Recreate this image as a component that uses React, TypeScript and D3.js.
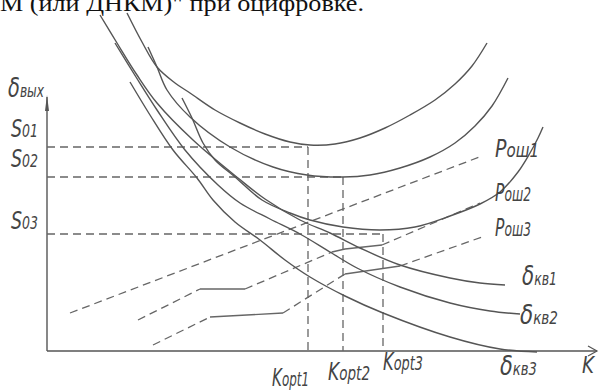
import React from "react";
import * as d3 from "d3";

type Pt = [number, number];

// axis units: K along x, δ along y
const kMax = 55;
const dMax = 35.1;

// total output error curves (U-shaped)
const sumCurve1: Pt[] = [
  [8.0, 33.8], [9.5, 30.9], [11.0, 28.4], [12.8, 26.8], [14.3, 25.8], [16.8, 24.1],
  [19.3, 22.8], [21.8, 21.7], [24.3, 20.9], [26.3, 20.6], [28.8, 20.7], [31.3, 21.3],
  [33.8, 22.3], [36.3, 23.6], [38.8, 25.1], [40.8, 26.7], [42.5, 28.5], [44.0, 30.8],
];
const sumCurve2: Pt[] = [
  [10.1, 30.4], [11.0, 28.4], [12.0, 26.1], [14.3, 23.4], [18.3, 20.4], [22.6, 18.4],
  [26.0, 17.6], [29.6, 17.4], [32.3, 17.6], [35.3, 18.3], [38.3, 19.4], [40.8, 20.8],
  [42.8, 22.5], [44.5, 24.5], [46.1, 27.3],
];
const sumCurve3: Pt[] = [
  [13.5, 25.3], [14.5, 23.3], [15.6, 20.8], [16.8, 19.1], [18.8, 17.4], [21.5, 15.1],
  [24.3, 13.8], [26.3, 13.1], [29.6, 12.4], [33.3, 12.1], [36.8, 12.4], [40.3, 13.5],
  [43.3, 14.7], [45.3, 15.9], [47.1, 17.9], [48.3, 19.8], [49.1, 21.3], [49.6, 22.4],
];

// quantization error curves δкв
const quantCurve1: Pt[] = [
  [5.3, 33.6], [7.0, 30.8], [9.0, 27.6], [11.0, 24.8], [14.6, 21.1], [19.1, 17.3],
  [21.8, 15.2], [25.3, 13.1], [28.3, 11.8], [31.3, 10.3], [35.3, 8.6], [40.3, 7.3],
  [43.3, 6.8], [45.8, 6.6],
];
const quantCurve2: Pt[] = [
  [6.8, 30.8], [8.9, 27.4], [11.0, 24.1], [13.8, 20.1], [17.1, 16.6], [19.3, 14.8],
  [22.3, 13.2], [25.3, 11.7], [28.3, 9.9], [31.0, 8.3], [35.3, 6.4], [40.3, 4.8],
  [44.3, 4.0], [47.3, 3.7],
];
const quantCurve3: Pt[] = [
  [8.3, 26.9], [10.3, 23.6], [12.6, 20.1], [15.0, 17.3], [16.6, 15.1], [18.8, 12.9],
  [21.3, 11.1], [23.8, 9.1], [26.3, 7.4], [29.8, 5.5], [33.6, 3.8], [40.3, 1.4],
  [45.3, 0.2], [49.0, -0.1],
];

// error probability lines Pош: pieces alternate dashed / solid
const errLine1: Pt[][] = [[[2.3, 3.8], [43.5, 19.5]]];
const errLine2: Pt[][] = [
  [[9.1, 3.1], [15.3, 6.2]],
  [[15.3, 6.2], [19.8, 6.2]],
  [[19.8, 6.2], [28.5, 9.9]],
  [[28.5, 9.9], [29.8, 10.2], [33.5, 10.6]],
  [[33.5, 10.6], [43.3, 14.8]],
];
const errLine3: Pt[][] = [
  [[10.6, 0.6], [16.3, 3.4]],
  [[16.3, 3.4], [23.6, 3.8]],
  [[23.6, 3.8], [29.8, 7.7]],
  [[29.8, 7.7], [35.3, 8.5]],
  [[35.3, 8.5], [43.5, 11.4]],
];

// optimum points
const sLevels = [20.4, 17.4, 11.7];
const kOpt = [26.1, 29.6, 33.6];

const sLabels = ["01", "02", "03"];
const kOptLabels = ["opt1", "opt2", "opt3"];
const errLabels = ["ош1", "ош2", "ош3"];
const quantLabels = ["кв1", "кв2", "кв3"];
const headerText = "М (или ДНКМ)\" при оцифровке.";

const W = 599;
const H = 390;
const INK = "#555";
const TXT = "#444";
const FONT = "'DejaVu Sans', sans-serif";

const x = d3.scaleLinear().domain([0, kMax]).range([47, 597]);
const y = d3.scaleLinear().domain([0, dMax]).range([351, 0]);

const smooth = d3
  .line<Pt>()
  .x(d => x(d[0]))
  .y(d => y(d[1]))
  .curve(d3.curveCatmullRom.alpha(0.5));
const straight = d3
  .line<Pt>()
  .x(d => x(d[0]))
  .y(d => y(d[1]));

function Label({ px, py, head, tail, hs, ts, w }: any) {
  return (
    <text
      x={px}
      y={py}
      fontFamily={FONT}
      fontStyle="italic"
      fill={TXT}
      textLength={w}
      lengthAdjust="spacingAndGlyphs"
    >
      <tspan fontSize={hs}>{head}</tspan>
      {tail ? <tspan fontSize={ts}>{tail}</tspan> : null}
    </text>
  );
}

export default function App() {
  const curves = [sumCurve1, sumCurve2, sumCurve3, quantCurve1, quantCurve2, quantCurve3];
  const errLines = [errLine1, errLine2, errLine3];

  return (
    <svg
      width={W}
      height={H}
      style={{ position: "absolute", left: 0, top: 0, background: "#fff" }}
    >
      {/* cropped line of the page text above the figure */}
      <text
        x={0}
        y={11}
        fontFamily="'Liberation Serif', serif"
        fontSize={24}
        fill="#111"
        textLength={364}
        lengthAdjust="spacingAndGlyphs"
      >
        {headerText}
      </text>

      {/* axes */}
      <line x1={x(0)} y1={y(0)} x2={x(0)} y2={97} stroke={INK} strokeWidth={1.4} />
      <path d={`M${x(0)},95 L${x(0) - 2},111 L${x(0) + 2},111 Z`} fill={INK} />
      <line x1={x(0)} y1={y(0)} x2={x(kMax)} y2={y(0)} stroke={INK} strokeWidth={1.4} />
      <path
        d={`M${x(kMax) - 9},${y(0) - 5} L${x(kMax)},${y(0)} L${x(kMax) - 9},${y(0) + 5}`}
        fill="none"
        stroke={INK}
        strokeWidth={1.2}
      />

      {/* optimum guides */}
      {sLevels.map((s, i) => (
        <g key={"g" + i} stroke="#666" strokeWidth={1.3} strokeDasharray="8 5" fill="none">
          <line x1={x(0)} y1={y(s)} x2={x(kOpt[i])} y2={y(s)} />
          <line x1={x(kOpt[i])} y1={y(s)} x2={x(kOpt[i])} y2={y(0)} />
        </g>
      ))}

      {/* Pош lines */}
      {errLines.map((pieces, i) =>
        pieces.map((p, j) => (
          <path
            key={`e${i}-${j}`}
            d={straight(p) || ""}
            fill="none"
            stroke="#666"
            strokeWidth={1.3}
            strokeDasharray={j % 2 === 0 ? "8 5" : undefined}
          />
        ))
      )}

      {/* curves */}
      {curves.map((c, i) => (
        <path key={"c" + i} d={smooth(c) || ""} fill="none" stroke={INK} strokeWidth={1.4} />
      ))}

      {/* labels */}
      <Label px={8} py={97} head="δ" tail="вых" hs={27} ts={17} w={36} />
      {sLabels.map((t, i) => (
        <Label
          key={"s" + i}
          px={11}
          py={y(sLevels[i]) - (i === 2 ? 5 : 10)}
          head="S"
          tail={t}
          hs={25}
          ts={18}
          w={27}
        />
      ))}
      {kOptLabels.map((t, i) => (
        <Label
          key={"k" + i}
          px={[272, 328, 383][i]}
          py={[386, 380, 370][i]}
          head="K"
          tail={t}
          hs={24}
          ts={19}
          w={[37, 42, 40][i]}
        />
      ))}
      {errLabels.map((t, i) => (
        <Label
          key={"p" + i}
          px={495}
          py={[157, 201, 236][i]}
          head="P"
          tail={t}
          hs={24}
          ts={19}
          w={i === 0 ? 44 : 36}
        />
      ))}
      {quantLabels.map((t, i) => (
        <Label
          key={"q" + i}
          px={[522, 520, 500][i]}
          py={[285, 324, 375][i]}
          head="δ"
          tail={t}
          hs={27}
          ts={17}
          w={[35, 38, 37][i]}
        />
      ))}
      <Label px={582} py={373} head="K" tail="" hs={23} ts={16} w={12} />
    </svg>
  );
}
